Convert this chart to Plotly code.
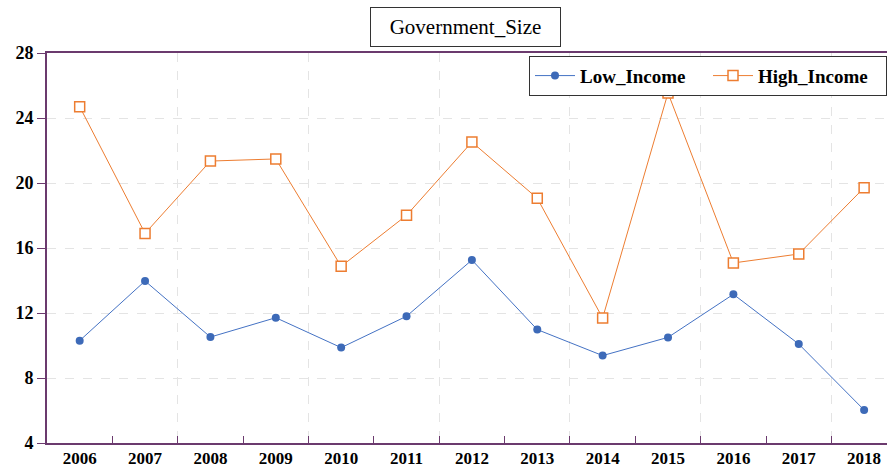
import plotly.graph_objects as go

years = ["2006", "2007", "2008", "2009", "2010", "2011", "2012",
         "2013", "2014", "2015", "2016", "2017", "2018"]
low_income = [10.30, 13.97, 10.52, 11.71, 9.87, 11.80, 15.26,
              10.98, 9.38, 10.50, 13.15, 10.09, 6.03]
high_income = [24.70, 16.90, 21.35, 21.48, 14.87, 18.01, 22.52,
               19.06, 11.69, 25.54, 15.08, 15.63, 19.71]
y_ticks = [4, 8, 12, 16, 20, 24, 28]
title_text = "Government_Size"

idx = list(range(len(years)))
boundaries = [i + 0.5 for i in idx[:-1]]
grid_bounds = boundaries[1::2]

PURPLE = "#6b3a6e"
FONT = "Liberation Serif"

fig = go.Figure()
fig.add_trace(go.Scatter(
    x=idx, y=low_income, name="Low_Income", mode="lines+markers",
    line=dict(color="#4472C4", width=1),
    marker=dict(symbol="circle", size=8, color="#3d6ab8"),
))
fig.add_trace(go.Scatter(
    x=idx, y=high_income, name="High_Income", mode="lines+markers",
    line=dict(color="#ED7D31", width=1),
    marker=dict(symbol="square", size=10, color="white",
                line=dict(color="#ED7D31", width=1.5)),
))
# invisible trace to carry the vertical-grid axis
fig.add_trace(go.Scatter(x=[idx[0]], y=[low_income[0]], xaxis="x2",
                         mode="markers", marker=dict(opacity=0),
                         showlegend=False, hoverinfo="skip"))

xr = [-0.5, 12.35]
fig.update_layout(
    width=887, height=470,
    margin=dict(l=47, r=0, t=53, b=27),
    plot_bgcolor="white", paper_bgcolor="white",
    font=dict(family=FONT, color="black"),
    showlegend=True,
    legend=dict(
        orientation="h", x=1, xanchor="right", y=0.993, yanchor="top",
        bordercolor="#333333", borderwidth=1, bgcolor="white",
        font=dict(family=FONT, size=19, weight="bold", color="black"),
        itemwidth=40, tracegroupgap=0, entrywidth=123, entrywidthmode="pixels",
    ),
    xaxis=dict(
        range=xr, tickmode="array", tickvals=idx, ticktext=years,
        ticks="", showgrid=False, zeroline=False, automargin=False,
        showline=True, linecolor=PURPLE, linewidth=2, mirror=True,
        tickfont=dict(family=FONT, size=17, weight="bold", color="black"),
        ticklabelstandoff=-1,
        minor=dict(tickmode="array", tickvals=boundaries, ticks="inside",
                   ticklen=7, tickcolor=PURPLE, tickwidth=1, showgrid=False),
    ),
    xaxis2=dict(
        range=xr, overlaying="x", anchor="y", side="bottom",
        tickmode="array", tickvals=grid_bounds, showticklabels=False,
        ticks="", showgrid=True, gridcolor="#e4e4e4", griddash="dash",
        gridwidth=1, zeroline=False, showline=False, automargin=False,
    ),
    yaxis=dict(
        range=[4, 28], tickmode="array", tickvals=y_ticks,
        ticks="outside", ticklen=8, tickcolor=PURPLE, tickwidth=1,
        showgrid=True, gridcolor="#e4e4e4", griddash="dash", gridwidth=1,
        zeroline=False, showline=True, linecolor=PURPLE, linewidth=2,
        automargin=False,
        tickfont=dict(family=FONT, size=18, weight="bold", color="black"),
    ),
    annotations=[dict(
        text=title_text, xref="paper", yref="paper",
        x=0.4988, y=1 + 26 / 390, xanchor="center", yanchor="middle",
        showarrow=False, width=189, height=38, borderpad=0,
        bordercolor="#333333", borderwidth=1, bgcolor="white",
        font=dict(family=FONT, size=21, color="black"),
    )],
)

fig.write_html(
    "out.html",
    config={"displayModeBar": False},
    post_script="document.body.style.margin='0';document.body.style.overflow='hidden';",
)
